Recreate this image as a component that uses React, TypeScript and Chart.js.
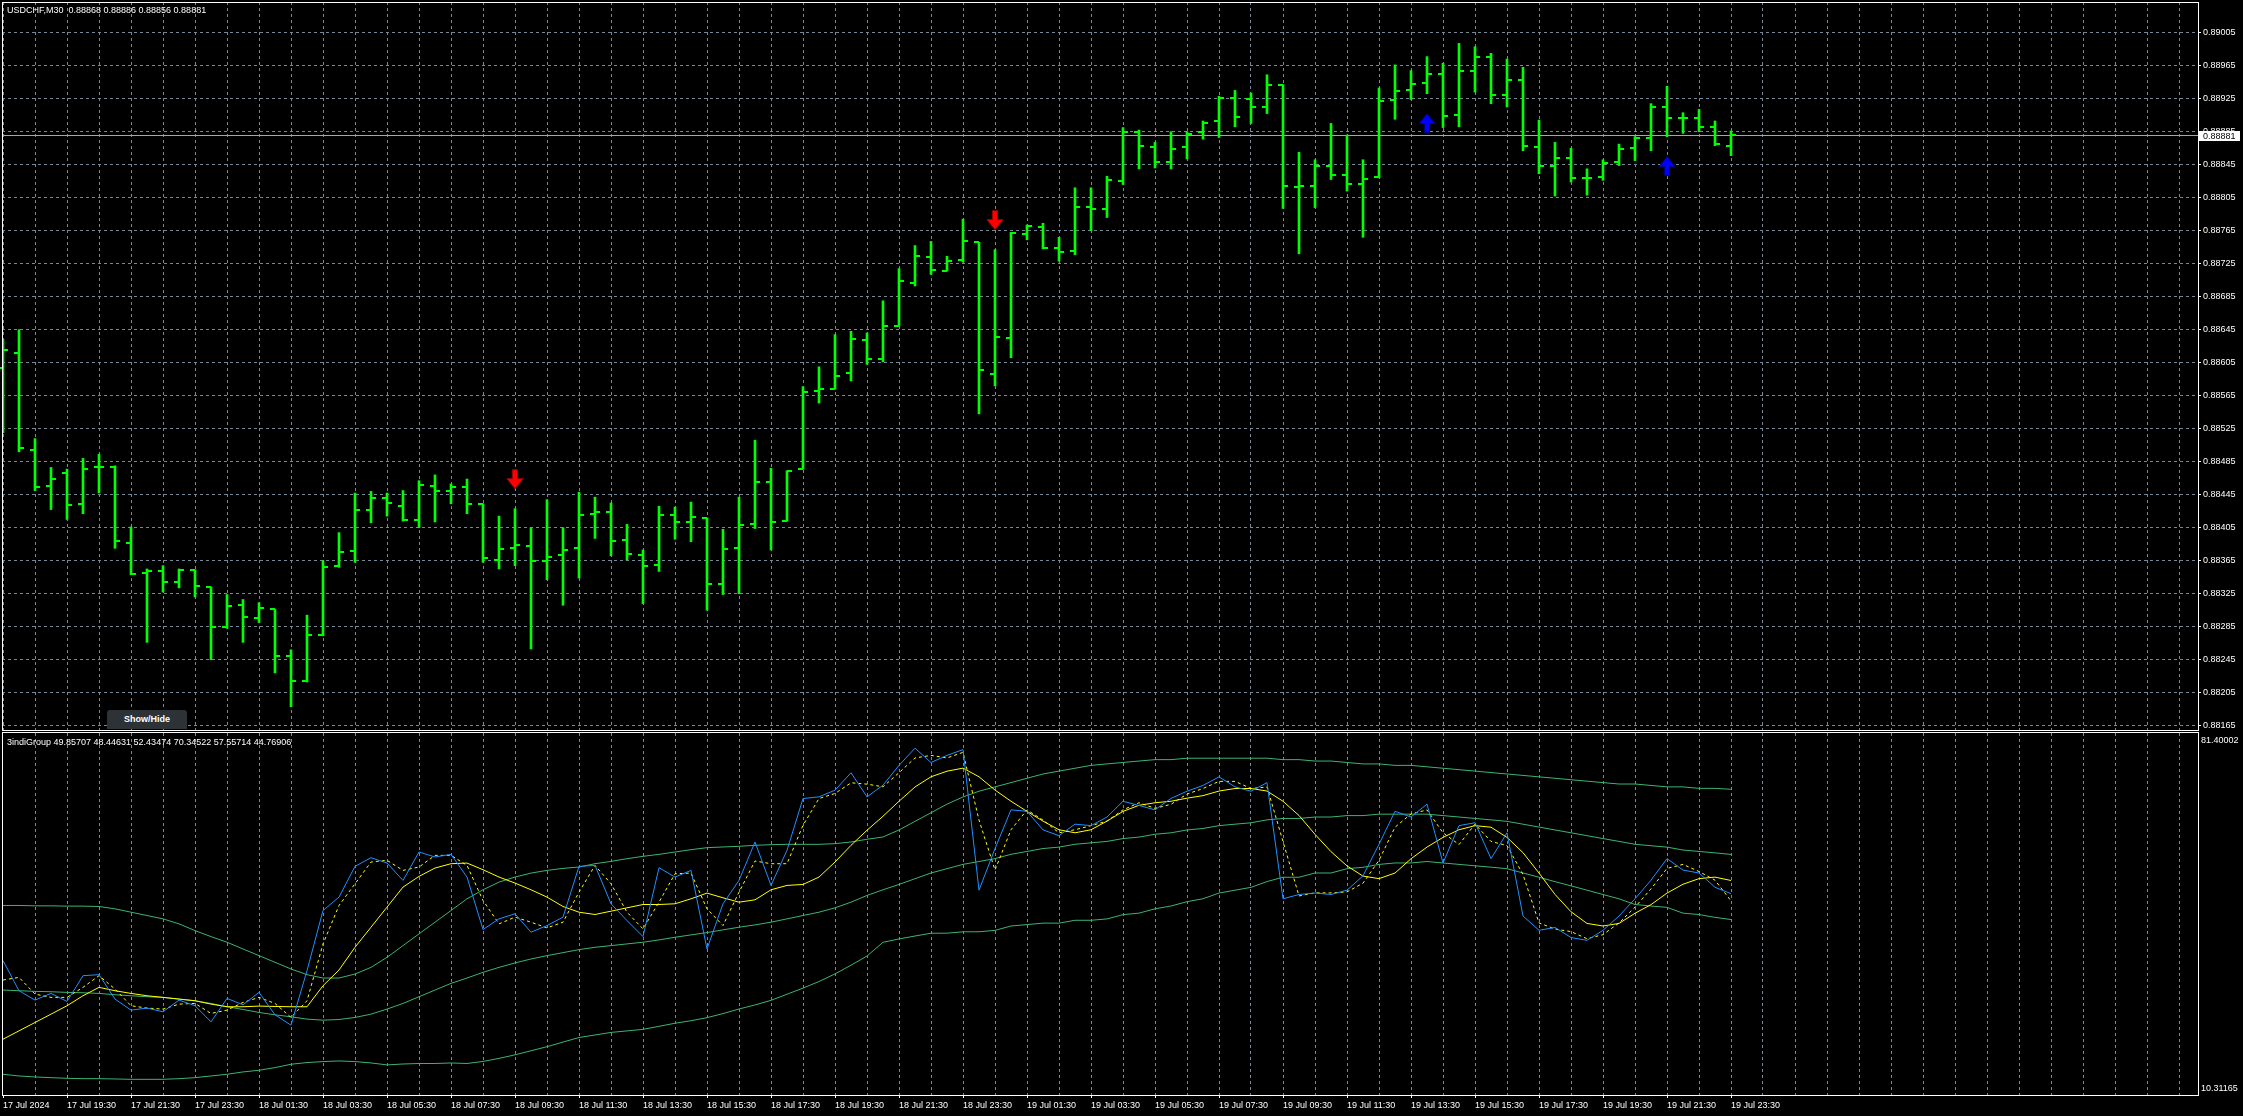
import React, { useEffect, useRef } from 'react';
import { Chart, registerables } from 'chart.js';

Chart.register(...registerables);

// ---------------- DATA ----------------
const chartTitle = 'USDCHF,M30  0.88868 0.88886 0.88856 0.88881';
const indicatorTitle = '3indiGroup 49.85707 48.44631 52.43474 70.34522 57.55714 44.76906';

const opens = [
  0.88598, 0.88617, 0.88499, 0.88455, 0.88471, 0.88434, 0.88479, 0.88479, 0.88387, 0.88350,
  0.88353, 0.88339, 0.88354, 0.88333, 0.88285, 0.88311, 0.88295, 0.88306, 0.88250, 0.88219,
  0.88275, 0.88358, 0.88377, 0.88426, 0.88441, 0.88431, 0.88414, 0.88455, 0.88450, 0.88454,
  0.88434, 0.88366, 0.88380, 0.88383, 0.88365, 0.88372, 0.88381, 0.88422, 0.88424, 0.88390,
  0.88372, 0.88360, 0.88420, 0.88412, 0.88417, 0.88337, 0.88380, 0.88409, 0.88460, 0.88413,
  0.88476, 0.88571, 0.88573, 0.88592, 0.88632, 0.88610, 0.88650, 0.88702, 0.88733, 0.88716,
  0.88730, 0.88751, 0.88591, 0.88635, 0.88761, 0.88769, 0.88744, 0.88740, 0.88794, 0.88791,
  0.88825, 0.88885, 0.88866, 0.88848, 0.88866, 0.88885, 0.88898, 0.88926, 0.88925, 0.88915,
  0.88941, 0.88818, 0.88819, 0.88844, 0.88832, 0.88822, 0.88830, 0.88923, 0.88936, 0.88944,
  0.88955, 0.88905, 0.88959, 0.88975, 0.88930, 0.88948, 0.88867, 0.88844, 0.88853, 0.88829,
  0.88830, 0.88848, 0.88865, 0.88877, 0.88915, 0.88901, 0.88902, 0.88891, 0.88868,
];
const highs = [
  0.88633, 0.88645, 0.88513, 0.88478, 0.88476, 0.88489, 0.88494, 0.88480, 0.88406, 0.88355,
  0.88359, 0.88355, 0.88354, 0.88333, 0.88324, 0.88318, 0.88314, 0.88306, 0.88257, 0.88299,
  0.88365, 0.88399, 0.88447, 0.88449, 0.88447, 0.88450, 0.88462, 0.88469, 0.88458, 0.88464,
  0.88434, 0.88419, 0.88428, 0.88405, 0.88439, 0.88405, 0.88448, 0.88442, 0.88435, 0.88409,
  0.88378, 0.88431, 0.88430, 0.88436, 0.88417, 0.88403, 0.88442, 0.88511, 0.88477, 0.88474,
  0.88576, 0.88600, 0.88639, 0.88643, 0.88641, 0.88680, 0.88719, 0.88747, 0.88752, 0.88734,
  0.88779, 0.88751, 0.88742, 0.88763, 0.88772, 0.88774, 0.88757, 0.88817, 0.88817, 0.88831,
  0.88890, 0.88887, 0.88872, 0.88885, 0.88885, 0.88898, 0.88928, 0.88935, 0.88932, 0.88954,
  0.88942, 0.88860, 0.88851, 0.88895, 0.88881, 0.88851, 0.88938, 0.88966, 0.88959, 0.88976,
  0.88968, 0.88992, 0.88988, 0.88980, 0.88973, 0.88963, 0.88899, 0.88872, 0.88865, 0.88840,
  0.88851, 0.88870, 0.88879, 0.88919, 0.88940, 0.88908, 0.88912, 0.88898, 0.88886,
];
const lows = [
  0.88520, 0.88497, 0.88450, 0.88427, 0.88415, 0.88422, 0.88447, 0.88380, 0.88348, 0.88266,
  0.88327, 0.88332, 0.88321, 0.88245, 0.88283, 0.88266, 0.88290, 0.88229, 0.88188, 0.88218,
  0.88274, 0.88357, 0.88363, 0.88411, 0.88419, 0.88413, 0.88405, 0.88412, 0.88434, 0.88422,
  0.88363, 0.88355, 0.88359, 0.88258, 0.88342, 0.88311, 0.88344, 0.88392, 0.88371, 0.88366,
  0.88313, 0.88352, 0.88391, 0.88388, 0.88305, 0.88324, 0.88325, 0.88404, 0.88378, 0.88413,
  0.88476, 0.88556, 0.88573, 0.88583, 0.88603, 0.88606, 0.88650, 0.88698, 0.88712, 0.88716,
  0.88727, 0.88543, 0.88577, 0.88611, 0.88754, 0.88743, 0.88728, 0.88736, 0.88765, 0.88781,
  0.88821, 0.88840, 0.88841, 0.88840, 0.88852, 0.88876, 0.88878, 0.88891, 0.88895, 0.88907,
  0.88792, 0.88737, 0.88793, 0.88827, 0.88813, 0.88757, 0.88829, 0.88900, 0.88924, 0.88931,
  0.88890, 0.88891, 0.88933, 0.88919, 0.88915, 0.88862, 0.88834, 0.88807, 0.88824, 0.88808,
  0.88826, 0.88844, 0.88850, 0.88862, 0.88879, 0.88883, 0.88885, 0.88868, 0.88856,
];
const closes = [
  0.88620, 0.88502, 0.88454, 0.88464, 0.88433, 0.88476, 0.88478, 0.88389, 0.88349, 0.88353,
  0.88339, 0.88354, 0.88334, 0.88285, 0.88310, 0.88297, 0.88308, 0.88250, 0.88219, 0.88275,
  0.88357, 0.88376, 0.88426, 0.88441, 0.88435, 0.88414, 0.88457, 0.88450, 0.88454, 0.88434,
  0.88368, 0.88379, 0.88384, 0.88365, 0.88370, 0.88378, 0.88420, 0.88424, 0.88389, 0.88373,
  0.88359, 0.88420, 0.88412, 0.88418, 0.88337, 0.88379, 0.88408, 0.88461, 0.88412, 0.88474,
  0.88570, 0.88573, 0.88589, 0.88634, 0.88610, 0.88649, 0.88704, 0.88734, 0.88717, 0.88728,
  0.88752, 0.88596, 0.88636, 0.88762, 0.88771, 0.88744, 0.88739, 0.88794, 0.88791, 0.88826,
  0.88885, 0.88868, 0.88848, 0.88864, 0.88882, 0.88896, 0.88926, 0.88903, 0.88915, 0.88942,
  0.88819, 0.88819, 0.88844, 0.88833, 0.88822, 0.88828, 0.88922, 0.88934, 0.88943, 0.88955,
  0.88904, 0.88959, 0.88976, 0.88930, 0.88948, 0.88868, 0.88844, 0.88853, 0.88829, 0.88829,
  0.88847, 0.88864, 0.88877, 0.88915, 0.88901, 0.88901, 0.88891, 0.88870, 0.88881,
];

const timeLabels = [
  '17 Jul 2024', '17 Jul 19:30', '17 Jul 21:30', '17 Jul 23:30',
  '18 Jul 01:30', '18 Jul 03:30', '18 Jul 05:30', '18 Jul 07:30', '18 Jul 09:30', '18 Jul 11:30',
  '18 Jul 13:30', '18 Jul 15:30', '18 Jul 17:30', '18 Jul 19:30', '18 Jul 21:30', '18 Jul 23:30',
  '19 Jul 01:30', '19 Jul 03:30', '19 Jul 05:30', '19 Jul 07:30', '19 Jul 09:30', '19 Jul 11:30',
  '19 Jul 13:30', '19 Jul 15:30', '19 Jul 17:30', '19 Jul 19:30', '19 Jul 21:30', '19 Jul 23:30',
];
const barsPerLabel = 4;

const priceTicks = [
  0.88165, 0.88205, 0.88245, 0.88285, 0.88325, 0.88365, 0.88405, 0.88445, 0.88485, 0.88525, 0.88565,
  0.88605, 0.88645, 0.88685, 0.88725, 0.88765, 0.88805, 0.88845, 0.88885, 0.88925, 0.88965, 0.89005,
];
const priceMin = 0.8815858;
const priceMax = 0.8904221;
const lastPrice = 0.88881;

const sellSignalBars = [32, 62];
const buySignalBars = [89, 104];

const indicatorMin = 10.31165;
const indicatorMax = 81.40002;
const indicatorScaleLabels = ['10.31165', '81.40002'];

const fastLine = [
  36.70, 30.79, 28.95, 30.26, 28.69, 33.74, 33.94, 29.15, 26.98, 27.38,
  26.65, 28.95, 27.84, 24.68, 29.28, 28.03, 30.46, 26.06, 24.03, 34.73,
  46.54, 49.17, 55.21, 56.91, 55.86, 52.45, 58.03, 57.05, 57.57, 53.11,
  42.80, 44.90, 45.89, 42.28, 43.59, 45.23, 55.21, 55.40, 47.86, 44.57,
  41.42, 54.95, 53.11, 54.42, 38.99, 47.86, 52.45, 60.00, 51.47, 58.36,
  68.53, 68.86, 70.17, 73.59, 68.86, 71.16, 75.04, 78.42, 75.60, 77.01,
  78.14, 50.53, 58.70, 66.31, 66.03, 62.37, 61.24, 63.50, 63.21, 64.90,
  68.00, 67.16, 66.31, 68.56, 69.97, 71.10, 72.79, 70.82, 69.97, 71.66,
  48.84, 49.69, 49.97, 49.69, 50.53, 53.35, 59.55, 66.03, 64.90, 67.43,
  55.88, 63.21, 63.78, 56.73, 61.80, 45.46, 42.65, 43.21, 41.24, 40.68,
  42.65, 45.46, 48.84, 52.50, 56.73, 54.48, 53.91, 51.10, 49.857,
];
const signalLine = [
  32.89, 33.41, 30.13, 29.48, 29.48, 31.45, 33.74, 31.12, 27.84, 27.38,
  27.18, 28.16, 28.29, 26.33, 26.98, 28.49, 29.48, 28.29, 25.54, 28.82,
  39.98, 47.53, 51.79, 56.06, 56.39, 54.42, 55.08, 57.37, 57.37, 55.40,
  48.51, 43.92, 45.23, 44.25, 43.13, 44.25, 50.15, 55.40, 51.79, 46.21,
  42.93, 48.18, 53.76, 53.89, 46.87, 43.59, 50.15, 56.26, 55.73, 55.73,
  63.28, 68.53, 69.52, 71.62, 71.36, 70.83, 73.60, 76.50, 77.00, 76.50,
  77.60, 64.30, 54.50, 62.40, 66.30, 64.30, 61.80, 62.40, 63.20, 64.10,
  66.30, 67.70, 66.60, 67.40, 69.40, 70.50, 71.90, 71.90, 70.50, 70.80,
  60.10, 49.40, 50.00, 50.00, 50.20, 51.90, 56.40, 62.90, 65.50, 66.30,
  61.80, 59.50, 63.50, 60.10, 59.30, 53.60, 44.10, 42.90, 42.40, 41.00,
  41.80, 44.10, 47.20, 50.80, 54.80, 55.60, 54.20, 52.50, 48.446,
];
const slowLine = [
  21.27, 22.91, 24.55, 26.19, 27.84, 29.80, 31.45, 30.79, 30.26, 29.80,
  29.48, 29.15, 28.82, 28.16, 27.64, 27.64, 27.77, 27.70, 27.64, 27.64,
  31.77, 34.86, 39.32, 43.26, 47.20, 51.14, 53.24, 54.88, 55.73, 55.86,
  54.55, 53.11, 51.93, 50.61, 49.17, 47.33, 46.21, 45.76, 46.41, 47.07,
  47.72, 47.72, 47.86, 48.84, 49.96, 49.04, 48.18, 48.64, 50.61, 51.47,
  51.66, 53.11, 56.06, 59.34, 62.30, 65.05, 68.00, 70.80, 72.80, 73.90,
  74.50, 72.80, 70.20, 68.00, 66.00, 64.10, 62.40, 61.80, 62.40, 64.10,
  66.00, 67.20, 67.70, 68.00, 68.60, 69.10, 70.00, 70.50, 70.50, 70.00,
  68.00, 65.20, 61.50, 58.10, 55.30, 53.30, 52.80, 53.90, 56.70, 59.00,
  60.90, 62.40, 63.20, 62.90, 60.90, 57.90, 53.90, 49.70, 46.30, 44.00,
  43.50, 44.00, 46.00, 47.70, 49.96, 51.70, 52.80, 53.10, 52.435,
];
const upperBand = [
  47.53, 47.53, 47.46, 47.46, 47.40, 47.40, 47.33, 46.87, 46.21, 45.56,
  44.90, 43.92, 42.60, 41.42, 40.31, 38.99, 37.68, 36.37, 35.06, 33.94,
  33.28, 33.28, 34.07, 35.38, 37.35, 39.65, 41.95, 44.25, 46.54, 48.84,
  50.61, 52.12, 53.11, 53.89, 54.42, 54.81, 55.08, 55.73, 56.19, 56.72,
  57.18, 57.57, 58.03, 58.49, 58.88, 59.02, 59.15, 59.34, 59.47, 59.54,
  59.54, 59.54, 59.67, 60.00, 60.53, 60.98, 62.36, 64.05, 65.74, 67.43,
  68.84, 69.97, 70.82, 71.66, 72.51, 73.35, 73.92, 74.48, 75.04, 75.33,
  75.61, 75.89, 76.17, 76.17, 76.45, 76.45, 76.45, 76.45, 76.45, 76.45,
  76.17, 76.17, 75.89, 75.89, 75.61, 75.33, 75.33, 75.04, 75.04, 74.76,
  74.48, 74.20, 73.92, 73.63, 73.35, 73.07, 72.79, 72.51, 72.22, 71.94,
  71.66, 71.38, 71.38, 71.10, 70.82, 70.82, 70.53, 70.53, 70.345,
];
const middleBand = [
  30.92, 30.79, 30.66, 30.59, 30.46, 30.39, 30.26, 30.00, 29.80, 29.61,
  29.48, 29.15, 28.82, 28.29, 27.64, 27.11, 26.52, 26.06, 25.67, 25.21,
  25.01, 25.14, 25.54, 26.19, 27.18, 28.29, 29.61, 30.92, 32.23, 33.28,
  34.40, 35.38, 36.24, 37.02, 37.68, 38.27, 38.86, 39.32, 39.65, 39.98,
  40.31, 40.77, 41.29, 41.75, 42.21, 42.74, 43.26, 43.72, 44.25, 44.90,
  45.56, 46.21, 47.07, 48.18, 49.50, 50.61, 51.66, 52.79, 53.91, 54.76,
  55.60, 56.17, 56.73, 57.58, 58.14, 58.71, 58.99, 59.55, 59.83, 60.11,
  60.67, 60.96, 61.52, 61.80, 62.36, 62.65, 63.21, 63.49, 63.77, 64.34,
  64.62, 64.62, 64.90, 64.90, 65.18, 65.18, 65.46, 65.46, 65.46, 65.46,
  65.18, 64.90, 64.62, 64.34, 64.05, 63.49, 62.93, 62.36, 61.80, 61.24,
  60.67, 60.11, 59.55, 59.26, 58.99, 58.42, 58.14, 57.86, 57.557,
];
const lowerBand = [
  14.38, 14.05, 13.85, 13.72, 13.59, 13.52, 13.52, 13.46, 13.39, 13.39,
  13.39, 13.52, 13.72, 14.05, 14.38, 14.84, 15.17, 15.69, 16.35, 16.68,
  16.87, 17.00, 16.87, 16.61, 16.22, 16.40, 16.50, 16.50, 16.60, 16.50,
  16.90, 17.50, 18.20, 19.00, 19.80, 20.70, 21.60, 22.10, 22.60, 22.90,
  23.20, 23.80, 24.40, 24.90, 25.50, 26.30, 27.20, 28.00, 28.90, 30.10,
  31.30, 32.60, 34.10, 35.80, 37.60, 40.30, 40.96, 41.53, 42.08, 42.09,
  42.36, 42.37, 42.64, 43.50, 43.77, 44.07, 44.06, 44.62, 44.62, 44.89,
  45.73, 46.03, 46.87, 47.43, 48.27, 48.85, 49.97, 50.53, 51.09, 52.23,
  53.07, 53.07, 53.91, 53.91, 54.75, 55.03, 55.59, 55.88, 55.88, 56.16,
  55.88, 55.60, 55.32, 55.05, 54.75, 53.91, 53.07, 52.21, 51.38, 50.54,
  49.68, 48.84, 47.72, 47.42, 47.16, 46.02, 45.75, 45.19, 44.769,
];

// ---------------- STYLE ----------------
const W = 2243;
const MAIN_H = 732;
const IND_TOP = 732;
const IND_H = 384;
const FONT = "'Liberation Sans', Arial, sans-serif";
const GRID = '#778899';
const BAR = '#00ff00';
const X_MIN = -0.0625;
const X_MAX = 137.1875;

function toXY(arr: number[]) {
  return arr.map((v, i) => ({ x: i, y: v }));
}

function drawFrame(ctx: CanvasRenderingContext2D, l: number, t: number, r: number, b: number) {
  ctx.fillStyle = '#ffffff';
  ctx.fillRect(l, t, r - l + 1, 1);
  ctx.fillRect(l, b, r - l + 1, 1);
  ctx.fillRect(l, t, 1, b - t + 1);
  ctx.fillRect(r, t, 1, b - t + 1);
}

function drawArrow(ctx: CanvasRenderingContext2D, x: number, tipY: number, dir: number, fill: string, stroke: string) {
  // dir = 1: pointing down (tip at bottom); dir = -1: pointing up
  ctx.beginPath();
  ctx.moveTo(x - 2.5, tipY - dir * 19);
  ctx.lineTo(x + 2.5, tipY - dir * 19);
  ctx.lineTo(x + 2.5, tipY - dir * 10);
  ctx.lineTo(x + 8, tipY - dir * 10);
  ctx.lineTo(x, tipY);
  ctx.lineTo(x - 8, tipY - dir * 10);
  ctx.lineTo(x - 2.5, tipY - dir * 10);
  ctx.closePath();
  ctx.fillStyle = fill;
  ctx.fill();
  ctx.lineWidth = 1;
  ctx.strokeStyle = stroke;
  ctx.stroke();
}

const mainPlugin = {
  id: 'mt4Main',
  beforeDatasetsDraw(chart: any) {
    const { ctx, chartArea, scales } = chart;
    const py = Math.round(scales.y.getPixelForValue(lastPrice));
    ctx.save();
    ctx.fillStyle = '#a4a8ac';
    ctx.fillRect(chartArea.left, py, chartArea.right - chartArea.left, 1);
    ctx.restore();
  },
  afterDatasetsDraw(chart: any) {
    const { ctx, scales } = chart;
    const xs = scales.x;
    const ys = scales.y;
    ctx.save();
    ctx.fillStyle = BAR;
    for (let i = 0; i < opens.length; i++) {
      const px = Math.round(xs.getPixelForValue(i));
      const yo = Math.round(ys.getPixelForValue(opens[i]));
      const yc = Math.round(ys.getPixelForValue(closes[i]));
      ctx.fillRect(px - 5, yo - 1, 5, 2);
      ctx.fillRect(px, yc - 1, 5, 2);
    }
    sellSignalBars.forEach((i) => {
      const px = xs.getPixelForValue(i);
      const tip = ys.getPixelForValue(highs[i]) - 20;
      drawArrow(ctx, px, tip, 1, '#ff0000', '#a00000');
    });
    buySignalBars.forEach((i) => {
      const px = xs.getPixelForValue(i);
      const tip = ys.getPixelForValue(lows[i]) + 20;
      drawArrow(ctx, px, tip, -1, '#0000ff', '#00007a');
    });
    ctx.restore();
  },
  afterDraw(chart: any) {
    const { ctx, chartArea, scales } = chart;
    ctx.save();
    drawFrame(ctx, chartArea.left, chartArea.top, chartArea.right, chartArea.bottom - 1);
    const py = Math.round(scales.y.getPixelForValue(lastPrice));
    ctx.fillStyle = '#ffffff';
    ctx.fillRect(chartArea.right + 1, py - 4, 41, 10);
    ctx.fillStyle = '#000000';
    ctx.font = `9px ${FONT}`;
    ctx.textBaseline = 'alphabetic';
    ctx.textAlign = 'left';
    ctx.fillText(lastPrice.toFixed(5), chartArea.right + 5, py + 4);
    ctx.restore();
  },
};

const indPlugin = {
  id: 'mt4Ind',
  afterDraw(chart: any) {
    const { ctx, chartArea } = chart;
    ctx.save();
    drawFrame(ctx, chartArea.left, chartArea.top - 1, chartArea.right, chartArea.bottom);
    ctx.restore();
  },
};

function gridTicks() {
  const t: { value: number }[] = [];
  for (let v = 0; v <= 136; v += 2) t.push({ value: v });
  return t;
}

function isLabelTick(v: number) {
  const r = Math.round(v);
  return r % barsPerLabel === 0 && r / barsPerLabel < timeLabels.length;
}

export default function App() {
  const mainRef = useRef<HTMLCanvasElement>(null);
  const indRef = useRef<HTMLCanvasElement>(null);

  useEffect(() => {
    document.body.style.margin = '0';
    document.body.style.background = '#000';

    const main = new Chart(mainRef.current as HTMLCanvasElement, {
      type: 'bar',
      data: {
        datasets: [
          {
            data: highs.map((h, i) => ({ x: i, y: [lows[i], h] })) as any,
            backgroundColor: BAR,
            borderWidth: 0,
            barThickness: 2,
            grouped: false,
          } as any,
        ],
      },
      options: {
        animation: false,
        responsive: false,
        devicePixelRatio: 1,
        events: [],
        layout: { padding: { left: 2, top: 2, right: 0, bottom: 1 } },
        plugins: { legend: { display: false }, tooltip: { enabled: false } },
        scales: {
          x: {
            type: 'linear',
            min: X_MIN,
            max: X_MAX,
            offset: false,
            grid: { offset: false, color: GRID, lineWidth: 1, drawTicks: false },
            border: { display: false, dash: [3, 3] },
            ticks: { display: false },
            afterBuildTicks: (s: any) => { s.ticks = gridTicks(); },
            afterFit: (s: any) => { s.height = 0; s.paddingLeft = 0; s.paddingRight = 0; },
          } as any,
          y: {
            type: 'linear',
            position: 'right',
            min: priceMin,
            max: priceMax,
            grid: { color: GRID, lineWidth: 1, drawTicks: true, tickLength: 3, tickColor: '#ffffff' },
            border: { display: false, dash: [3, 3] },
            ticks: {
              color: '#ffffff',
              font: { family: FONT, size: 9 },
              padding: 2,
              autoSkip: false,
              callback: (v: any) => Number(v).toFixed(5),
            },
            afterBuildTicks: (s: any) => { s.ticks = priceTicks.map((v) => ({ value: v })); },
            afterFit: (s: any) => { s.width = 45; s.paddingTop = 0; s.paddingBottom = 0; },
          } as any,
        },
      },
      plugins: [mainPlugin],
    });

    const lineDs = (data: number[], color: string, dash: number[] = [], width = 1) => ({
      data: toXY(data),
      borderColor: color,
      borderWidth: width,
      borderDash: dash,
      pointRadius: 0,
      tension: 0,
      fill: false,
    });

    const ind = new Chart(indRef.current as HTMLCanvasElement, {
      type: 'line',
      data: {
        datasets: [
          lineDs(fastLine, '#1e90ff'),
          lineDs(signalLine, '#ffff00', [3, 3]),
          lineDs(slowLine, '#ffff00'),
          lineDs(upperBand, '#3cb371'),
          lineDs(middleBand, '#3cb371'),
          lineDs(lowerBand, '#3cb371'),
        ] as any,
      },
      options: {
        animation: false,
        responsive: false,
        devicePixelRatio: 1,
        events: [],
        layout: { padding: { left: 2, top: 1, right: 0, bottom: 0 } },
        plugins: { legend: { display: false }, tooltip: { enabled: false } },
        scales: {
          x: {
            type: 'linear',
            min: X_MIN,
            max: X_MAX,
            offset: false,
            grid: {
              offset: false,
              color: (c: any) => (c.tick && c.tick.value === 0 ? 'rgba(0,0,0,0)' : GRID),
              lineWidth: 1,
              drawTicks: true,
              tickLength: 3,
              tickColor: (c: any) => (c.tick && isLabelTick(c.tick.value) ? '#ffffff' : 'rgba(0,0,0,0)'),
            },
            border: { display: false, dash: [3, 3] },
            ticks: {
              color: '#ffffff',
              font: { family: FONT, size: 9 },
              padding: 2,
              autoSkip: false,
              maxRotation: 0,
              minRotation: 0,
              align: 'start',
              callback: (v: any) => {
                const r = Math.round(Number(v));
                return isLabelTick(r) ? timeLabels[r / barsPerLabel] : '';
              },
            },
            afterBuildTicks: (s: any) => { s.ticks = gridTicks(); },
            afterFit: (s: any) => { s.height = 21; s.paddingLeft = 0; s.paddingRight = 0; },
          } as any,
          y: {
            type: 'linear',
            position: 'right',
            min: indicatorMin,
            max: indicatorMax,
            grid: { display: false, drawTicks: false },
            border: { display: false },
            ticks: {
              color: '#ffffff',
              font: { family: FONT, size: 9 },
              padding: 3,
              autoSkip: false,
              callback: (v: any, idx: number) => indicatorScaleLabels[idx],
            },
            afterBuildTicks: (s: any) => {
              const span = indicatorMax - indicatorMin;
              s.ticks = [
                { value: indicatorMin + (span * 6.5) / 362 },
                { value: indicatorMax - (span * 7.5) / 362 },
              ];
            },
            afterFit: (s: any) => { s.width = 45; s.paddingTop = 0; s.paddingBottom = 0; },
          } as any,
        },
      },
      plugins: [indPlugin],
    });

    return () => {
      main.destroy();
      ind.destroy();
    };
  }, []);

  const textStyle: React.CSSProperties = {
    position: 'absolute',
    fontFamily: FONT,
    fontSize: '9px',
    lineHeight: '10px',
    color: '#ffffff',
    whiteSpace: 'pre',
    zIndex: 2,
  };

  return (
    <div style={{ position: 'fixed', left: 0, top: 0, width: W, height: 1116, background: '#000', overflow: 'hidden' }}>
      <canvas ref={mainRef} width={W} height={MAIN_H} style={{ position: 'absolute', left: 0, top: 0, width: W, height: MAIN_H, display: 'block' }} />
      <canvas ref={indRef} width={W} height={IND_H} style={{ position: 'absolute', left: 0, top: IND_TOP, width: W, height: IND_H, display: 'block' }} />
      <div style={{ ...textStyle, left: 7, top: 5 }}>{chartTitle}</div>
      <div style={{ ...textStyle, left: 7, top: 737 }}>{indicatorTitle}</div>
      <div
        style={{
          position: 'absolute', left: 107, top: 710, width: 80, height: 19,
          background: '#2d3237', color: '#ffffff', fontFamily: FONT, fontWeight: 'bold',
          fontSize: '9px', lineHeight: '19px', textAlign: 'center', borderRadius: '3px 3px 0 0', zIndex: 2,
        }}
      >
        Show/Hide
      </div>
    </div>
  );
}
